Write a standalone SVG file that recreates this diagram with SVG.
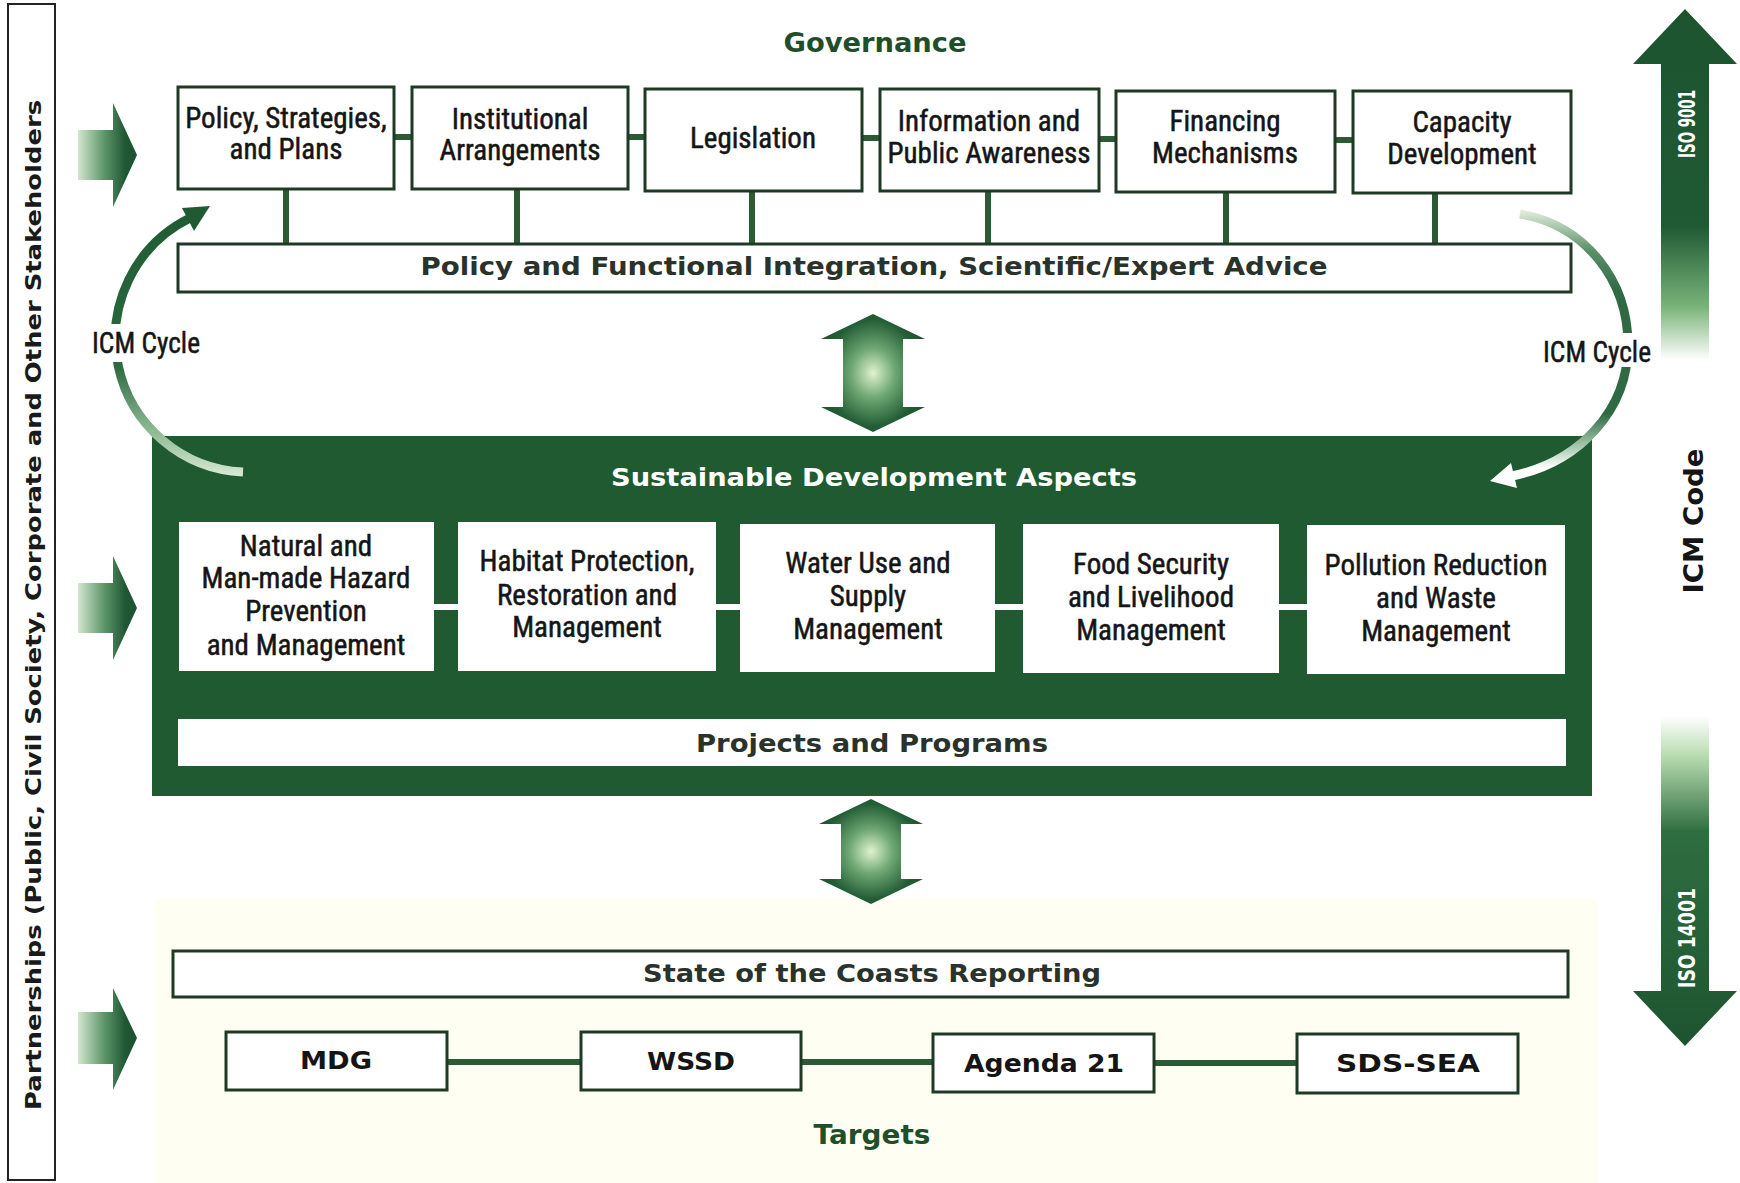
<svg xmlns="http://www.w3.org/2000/svg" width="1740" height="1183" viewBox="0 0 1740 1183">
<defs>
<style>
.box{fill:#ffffff;stroke:#1f3a24;stroke-width:3}
.ibox{fill:#ffffff}
.conn{stroke:#2b5a34;stroke-width:6;fill:none}
.wconn{stroke:#ffffff;stroke-width:6;fill:none}
.nt{font-family:'Liberation Sans Narrow','Arial Narrow','Roboto Condensed','Liberation Sans',sans-serif;font-size:29px;fill:#151515;stroke:#151515;stroke-width:0.5;text-anchor:middle}
.bt{font-family:'DejaVu Sans','Liberation Sans',sans-serif;font-weight:bold;text-anchor:middle}
.dark{fill:#2a332b}
.green{fill:#1f4f2a}
</style>
<linearGradient id="lg" x1="0" y1="0" x2="1" y2="0">
<stop offset="0" stop-color="#d3e6cf"/>
<stop offset="0.45" stop-color="#5b9668"/>
<stop offset="0.8" stop-color="#1f5733"/>
<stop offset="1" stop-color="#1d5230"/>
</linearGradient>
<radialGradient id="dg" cx="0.5" cy="0.5" r="0.6">
<stop offset="0" stop-color="#e0f2d0"/>
<stop offset="0.35" stop-color="#6fa874"/>
<stop offset="0.75" stop-color="#235e36"/>
<stop offset="1" stop-color="#1b4f2b"/>
</radialGradient>
<linearGradient id="up" x1="0" y1="9" x2="0" y2="360" gradientUnits="userSpaceOnUse">
<stop offset="0" stop-color="#1d5430"/>
<stop offset="0.62" stop-color="#1f5a34"/>
<stop offset="0.85" stop-color="#7ab47a"/>
<stop offset="1" stop-color="#ffffff"/>
</linearGradient>
<linearGradient id="down" x1="0" y1="716" x2="0" y2="1046" gradientUnits="userSpaceOnUse">
<stop offset="0" stop-color="#ffffff"/>
<stop offset="0.12" stop-color="#b8dcb0"/>
<stop offset="0.35" stop-color="#2f6e40"/>
<stop offset="1" stop-color="#1d5430"/>
</linearGradient>
<linearGradient id="arcL" x1="0" y1="200" x2="0" y2="476" gradientUnits="userSpaceOnUse">
<stop offset="0" stop-color="#1f5a32"/>
<stop offset="0.6" stop-color="#2a6a40"/>
<stop offset="0.82" stop-color="#86b48e"/>
<stop offset="1" stop-color="#d6ead2"/>
</linearGradient>
<linearGradient id="arcR" x1="0" y1="210" x2="0" y2="482" gradientUnits="userSpaceOnUse">
<stop offset="0" stop-color="#e4eedc"/>
<stop offset="0.15" stop-color="#5a8f68"/>
<stop offset="0.3" stop-color="#2f6a45"/>
<stop offset="0.75" stop-color="#2f6a45"/>
<stop offset="0.86" stop-color="#9cc2a6"/>
<stop offset="0.95" stop-color="#ffffff"/>
<stop offset="1" stop-color="#ffffff"/>
</linearGradient>
</defs>

<rect x="0" y="0" width="1740" height="1183" fill="#ffffff"/>
<rect x="155" y="899" width="1443" height="284" fill="#fefef3"/>

<!-- Partnerships bar -->
<g id="partnerships">
<rect x="8" y="4" width="47" height="1176" fill="#ffffff" stroke="#222222" stroke-width="2"/>
<text class="bt" font-size="22" fill="#1a1a1a" transform="translate(41,605) rotate(-90)" textLength="1010" lengthAdjust="spacingAndGlyphs">Partnerships (Public, Civil Society, Corporate and Other Stakeholders</text>
</g>

<!-- Left input arrows -->
<g id="input-arrows">
<path d="M78 130 L113 130 L113 103 L137 155 L113 207 L113 180 L78 180 Z" fill="url(#lg)"/>
<path d="M78 583 L113 583 L113 556 L137 608 L113 660 L113 633 L78 633 Z" fill="url(#lg)"/>
<path d="M78 1012 L113 1012 L113 988 L137 1038 L113 1090 L113 1064 L78 1064 Z" fill="url(#lg)"/>
</g>

<!-- Governance -->
<g id="governance-title">
<text class="bt green" x="875" y="52" font-size="26" textLength="183" lengthAdjust="spacingAndGlyphs">Governance</text>
</g>

<!-- Connectors -->
<g id="connectors">
<line class="conn" x1="394" y1="137" x2="412" y2="137"/>
<line class="conn" x1="628" y1="137" x2="645" y2="137"/>
<line class="conn" x1="862" y1="138" x2="880" y2="138"/>
<line class="conn" x1="1099" y1="139" x2="1116" y2="139"/>
<line class="conn" x1="1335" y1="140" x2="1353" y2="140"/>
<line class="conn" x1="286" y1="189" x2="286" y2="244"/>
<line class="conn" x1="517" y1="189" x2="517" y2="244"/>
<line class="conn" x1="752" y1="191" x2="752" y2="244"/>
<line class="conn" x1="988" y1="191" x2="988" y2="244"/>
<line class="conn" x1="1226" y1="192" x2="1226" y2="244"/>
<line class="conn" x1="1435" y1="193" x2="1435" y2="244"/>
<line class="conn" x1="447" y1="1062" x2="581" y2="1062"/>
<line class="conn" x1="801" y1="1062" x2="933" y2="1062"/>
<line class="conn" x1="1154" y1="1063" x2="1297" y2="1063"/>
</g>

<!-- Governance boxes -->
<g id="policy-strategies-plans">
<rect class="box" x="178" y="87" width="216" height="102"/>
<text class="nt" x="286" y="128">Policy, Strategies,</text>
<text class="nt" x="286" y="159">and Plans</text>
</g>
<g id="institutional-arrangements">
<rect class="box" x="412" y="87" width="216" height="102"/>
<text class="nt" x="520" y="129">Institutional</text>
<text class="nt" x="520" y="160">Arrangements</text>
</g>
<g id="legislation">
<rect class="box" x="645" y="89" width="217" height="102"/>
<text class="nt" x="753" y="148">Legislation</text>
</g>
<g id="information-public-awareness">
<rect class="box" x="880" y="89" width="219" height="102"/>
<text class="nt" x="989" y="131">Information and</text>
<text class="nt" x="989" y="163">Public Awareness</text>
</g>
<g id="financing-mechanisms">
<rect class="box" x="1116" y="91" width="219" height="101"/>
<text class="nt" x="1225" y="131">Financing</text>
<text class="nt" x="1225" y="163">Mechanisms</text>
</g>
<g id="capacity-development">
<rect class="box" x="1353" y="91" width="218" height="102"/>
<text class="nt" x="1462" y="132">Capacity</text>
<text class="nt" x="1462" y="164">Development</text>
</g>

<g id="policy-integration-bar">
<rect class="box" x="178" y="244" width="1393" height="48"/>
<text class="bt dark" x="874" y="275" font-size="24" textLength="907" lengthAdjust="spacingAndGlyphs">Policy and Functional Integration, Scientific/Expert Advice</text>
</g>

<!-- Double arrow top -->
<g id="double-arrow-top">
<path d="M873 314 L925 339 L903 339 L903 407 L925 407 L873 432 L821 407 L843 407 L843 339 L821 339 Z" fill="url(#dg)"/>
</g>

<!-- Sustainable development panel -->
<g id="sustainable-development-panel">
<rect x="152" y="436" width="1440" height="360" fill="#1f5a31"/>
<text class="bt" x="874" y="486" font-size="24" fill="#ffffff" textLength="526" lengthAdjust="spacingAndGlyphs">Sustainable Development Aspects</text>
<line class="wconn" x1="434" y1="607" x2="458" y2="607"/>
<line class="wconn" x1="716" y1="607" x2="740" y2="607"/>
<line class="wconn" x1="995" y1="607" x2="1023" y2="607"/>
<line class="wconn" x1="1279" y1="607" x2="1307" y2="607"/>
</g>
<g id="hazard-management">
<rect class="ibox" x="179" y="522" width="255" height="149"/>
<text class="nt" x="306" y="556">Natural and</text>
<text class="nt" x="306" y="588">Man-made Hazard</text>
<text class="nt" x="306" y="621">Prevention</text>
<text class="nt" x="306" y="655">and Management</text>
</g>
<g id="habitat-protection">
<rect class="ibox" x="458" y="522" width="258" height="149"/>
<text class="nt" x="587" y="571">Habitat Protection,</text>
<text class="nt" x="587" y="605">Restoration and</text>
<text class="nt" x="587" y="637">Management</text>
</g>
<g id="water-use">
<rect class="ibox" x="740" y="524" width="255" height="148"/>
<text class="nt" x="868" y="573">Water Use and</text>
<text class="nt" x="868" y="606">Supply</text>
<text class="nt" x="868" y="639">Management</text>
</g>
<g id="food-security">
<rect class="ibox" x="1023" y="524" width="256" height="149"/>
<text class="nt" x="1151" y="574">Food Security</text>
<text class="nt" x="1151" y="607">and Livelihood</text>
<text class="nt" x="1151" y="640">Management</text>
</g>
<g id="pollution-reduction">
<rect class="ibox" x="1307" y="525" width="258" height="149"/>
<text class="nt" x="1436" y="575">Pollution Reduction</text>
<text class="nt" x="1436" y="608">and Waste</text>
<text class="nt" x="1436" y="641">Management</text>
</g>
<g id="projects-programs">
<rect class="ibox" x="178" y="719" width="1388" height="47"/>
<text class="bt dark" x="872" y="752" font-size="24" textLength="352" lengthAdjust="spacingAndGlyphs">Projects and Programs</text>
</g>

<!-- ICM cycles -->
<g id="icm-cycle-left">
<path d="M243 472 A134 134 0 0 1 190 218" fill="none" stroke="url(#arcL)" stroke-width="9"/>
<polygon points="210,206 194,231 182,208" fill="#1f5a32"/>
<rect x="88" y="324" width="116" height="38" fill="#ffffff"/>
<text class="nt" x="146" y="353" font-size="26" textLength="108" lengthAdjust="spacingAndGlyphs">ICM Cycle</text>
</g>
<g id="icm-cycle-right">
<path d="M1520 214 C1585 225 1628 280 1628 345 C1628 410 1580 462 1512 476" fill="none" stroke="url(#arcR)" stroke-width="9"/>
<polygon points="1490,481 1517,488 1511,463" fill="#ffffff"/>
<rect x="1539" y="333" width="118" height="34" fill="#ffffff"/>
<text class="nt" x="1597" y="362" font-size="26" textLength="108" lengthAdjust="spacingAndGlyphs">ICM Cycle</text>
</g>

<!-- Double arrow bottom -->
<g id="double-arrow-bottom">
<path d="M871 799 L923 824 L901 824 L901 879 L923 879 L871 904 L819 879 L841 879 L841 824 L819 824 Z" fill="url(#dg)"/>
</g>

<g id="state-of-coasts">
<rect class="box" x="173" y="951" width="1395" height="46"/>
<text class="bt dark" x="872" y="982" font-size="24" textLength="458" lengthAdjust="spacingAndGlyphs">State of the Coasts Reporting</text>
</g>

<!-- Targets -->
<g id="mdg">
<rect class="box" x="226" y="1032" width="221" height="58"/>
<text class="bt" x="336" y="1069" font-size="24" fill="#151515" textLength="72" lengthAdjust="spacingAndGlyphs">MDG</text>
</g>
<g id="wssd">
<rect class="box" x="581" y="1032" width="220" height="58"/>
<text class="bt" x="691" y="1070" font-size="24" fill="#151515" textLength="88" lengthAdjust="spacingAndGlyphs">WSSD</text>
</g>
<g id="agenda-21">
<rect class="box" x="933" y="1034" width="221" height="58"/>
<text class="bt" x="1044" y="1072" font-size="24" fill="#151515" textLength="160" lengthAdjust="spacingAndGlyphs">Agenda 21</text>
</g>
<g id="sds-sea">
<rect class="box" x="1297" y="1034" width="221" height="59"/>
<text class="bt" x="1408" y="1072" font-size="24" fill="#151515" textLength="144" lengthAdjust="spacingAndGlyphs">SDS-SEA</text>
</g>
<g id="targets-title">
<text class="bt green" x="872" y="1144" font-size="26" textLength="117" lengthAdjust="spacingAndGlyphs">Targets</text>
</g>

<!-- Right side ISO arrows -->
<g id="iso-9001">
<path d="M1685 9 L1737 64 L1709 64 L1709 360 L1661 360 L1661 64 L1633 64 Z" fill="url(#up)"/>
<text class="bt" font-size="23" fill="#ffffff" transform="translate(1695,124) rotate(-90)" textLength="68" lengthAdjust="spacingAndGlyphs">ISO 9001</text>
</g>
<g id="icm-code">
<text class="bt" font-size="26" fill="#151515" transform="translate(1703,521) rotate(-90)" textLength="145" lengthAdjust="spacingAndGlyphs">ICM Code</text>
</g>
<g id="iso-14001">
<path d="M1661 716 L1709 716 L1709 991 L1737 991 L1685 1046 L1633 991 L1661 991 Z" fill="url(#down)"/>
<text class="bt" font-size="23" fill="#ffffff" transform="translate(1695,938) rotate(-90)" textLength="100" lengthAdjust="spacingAndGlyphs">ISO 14001</text>
</g>
</svg>
